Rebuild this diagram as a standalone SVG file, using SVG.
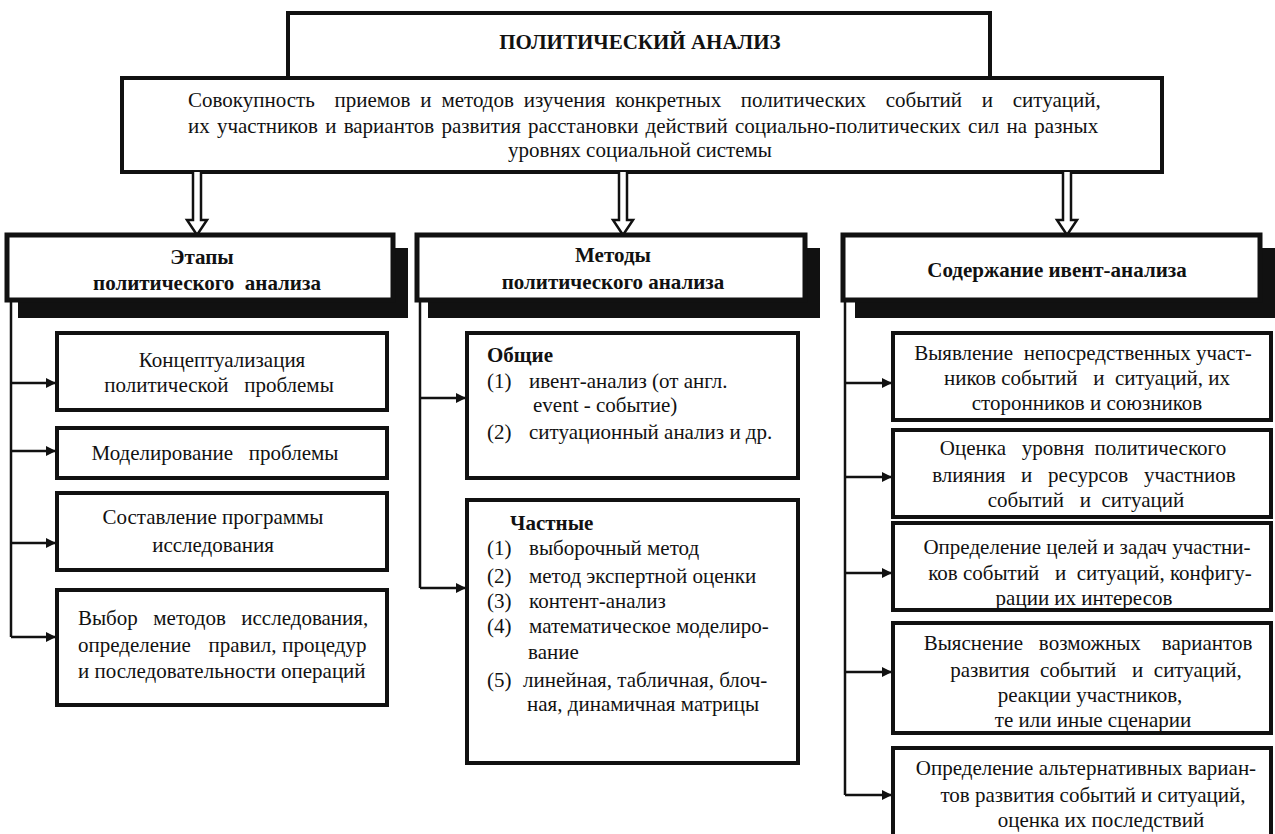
<svg xmlns="http://www.w3.org/2000/svg" width="1275" height="834" viewBox="0 0 1275 834" font-family="Liberation Serif" font-size="21">
<style>
.box{fill:#fff;stroke:#111;stroke-width:4}
.hdr{fill:#fff;stroke:#111;stroke-width:5}
.sh{fill:#111}
.t{font-size:21px;fill:#111}
.b{font-weight:bold}
.c{text-anchor:middle}
.ln{stroke:#111;stroke-width:2.5;fill:none}
.hol{fill:#fff;stroke:#111;stroke-width:2.5;stroke-linejoin:miter}
</style>
<defs>
<marker id="ah" viewBox="0 0 10 10" refX="10" refY="5" markerWidth="11" markerHeight="10" markerUnits="userSpaceOnUse" orient="auto">
<path d="M0,0 L10,5 L0,10 z" fill="#111"/>
</marker>
</defs>
<rect width="1275" height="834" fill="#fff"/>

<g id="title" font-family="Liberation Serif">
<rect class="box" x="288" y="13" width="702" height="65"/>
<text class="t b c" x="640" y="49" font-family="Liberation Serif">ПОЛИТИЧЕСКИЙ АНАЛИЗ</text>
</g>
<g id="definition" font-family="Liberation Serif">
<rect class="box" x="122" y="78" width="1040" height="94"/>
<text class="t" x="188" y="107" font-family="Liberation Serif" word-spacing="4.6" xml:space="preserve">Совокупность  приемов и методов изучения конкретных  политических  событий  и  ситуаций,</text>
<text class="t" x="188" y="133" font-family="Liberation Serif" word-spacing="2">их участников и вариантов развития расстановки действий социально-политических сил на разных</text>
<text class="t c" x="640" y="157" font-family="Liberation Serif">уровнях социальной системы</text>
</g>

<g id="connectors">
<path class="hol" d="M193,172 V220 H187 L197,235 L207,220 H201 V172"/>
<path class="hol" d="M619,172 V220 H613 L623,235 L633,220 H627 V172"/>
<path class="hol" d="M1063,172 V220 H1057 L1067,235 L1077,220 H1071 V172"/>
<path class="ln" d="M11,300 V637"/>
<line class="ln" x1="11" y1="383" x2="56" y2="383" marker-end="url(#ah)"/>
<line class="ln" x1="11" y1="451" x2="56" y2="451" marker-end="url(#ah)"/>
<line class="ln" x1="11" y1="543" x2="56" y2="543" marker-end="url(#ah)"/>
<line class="ln" x1="11" y1="637" x2="56" y2="637" marker-end="url(#ah)"/>
<path class="ln" d="M420,300 V588"/>
<line class="ln" x1="420" y1="398" x2="466" y2="398" marker-end="url(#ah)"/>
<line class="ln" x1="420" y1="588" x2="466" y2="588" marker-end="url(#ah)"/>
<path class="ln" d="M845,300 V795"/>
<line class="ln" x1="845" y1="383" x2="892" y2="383" marker-end="url(#ah)"/>
<line class="ln" x1="845" y1="477" x2="892" y2="477" marker-end="url(#ah)"/>
<line class="ln" x1="845" y1="573" x2="892" y2="573" marker-end="url(#ah)"/>
<line class="ln" x1="845" y1="672" x2="892" y2="672" marker-end="url(#ah)"/>
<line class="ln" x1="845" y1="795" x2="892" y2="795" marker-end="url(#ah)"/>
</g>

<g id="hdr-stages" font-family="Liberation Serif">
<rect class="sh" x="18" y="248" width="390" height="70"/>
<rect class="hdr" x="7" y="235" width="386" height="65"/>
<text class="t b c" x="202" y="264" font-family="Liberation Serif">Этапы</text>
<text class="t b c" x="207" y="290" font-family="Liberation Serif" xml:space="preserve">политического  анализа</text>
</g>
<g id="hdr-methods" font-family="Liberation Serif">
<rect class="sh" x="428" y="248" width="392" height="70"/>
<rect class="hdr" x="417" y="235" width="388" height="65"/>
<text class="t b c" x="613" y="262" font-family="Liberation Serif">Методы</text>
<text class="t b c" x="613" y="289" font-family="Liberation Serif">политического анализа</text>
</g>
<g id="hdr-content" font-family="Liberation Serif">
<rect class="sh" x="855" y="248" width="420" height="70"/>
<rect class="hdr" x="843" y="235" width="417" height="65"/>
<text class="t b c" x="1057" y="277" font-family="Liberation Serif">Содержание ивент-анализа</text>
</g>

<g id="stage1" font-family="Liberation Serif">
<rect class="box" x="57" y="333" width="330" height="77"/>
<text class="t c" x="222" y="367" font-family="Liberation Serif">Концептуализация</text>
<text class="t c" x="219" y="392" font-family="Liberation Serif" xml:space="preserve">политической   проблемы</text>
</g>
<g id="stage2" font-family="Liberation Serif">
<rect class="box" x="57" y="428" width="330" height="50"/>
<text class="t c" x="215" y="460" font-family="Liberation Serif" xml:space="preserve">Моделирование   проблемы</text>
</g>
<g id="stage3" font-family="Liberation Serif">
<rect class="box" x="57" y="493" width="330" height="77"/>
<text class="t c" x="213" y="524" font-family="Liberation Serif">Составление программы</text>
<text class="t c" x="213" y="552" font-family="Liberation Serif">исследования</text>
</g>
<g id="stage4" font-family="Liberation Serif">
<rect class="box" x="57" y="590" width="330" height="115"/>
<text class="t" x="78" y="625" font-family="Liberation Serif" word-spacing="2.5" xml:space="preserve">Выбор  методов  исследования,</text>
<text class="t" x="78" y="652" font-family="Liberation Serif" word-spacing="0.6" xml:space="preserve">определение   правил, процедур</text>
<text class="t" x="78" y="678" font-family="Liberation Serif">и последовательности операций</text>
</g>

<g id="methods-general" font-family="Liberation Serif">
<rect class="box" x="467" y="333" width="331" height="145"/>
<text class="t b" x="487" y="362" font-family="Liberation Serif">Общие</text>
<text class="t" x="487" y="388" font-family="Liberation Serif">(1)</text><text class="t" x="529" y="388" font-family="Liberation Serif">ивент-анализ (от англ.</text>
<text class="t" x="533" y="412" font-family="Liberation Serif">event - событие)</text>
<text class="t" x="487" y="439" font-family="Liberation Serif">(2)</text><text class="t" x="529" y="439" font-family="Liberation Serif">ситуационный анализ и др.</text>
</g>
<g id="methods-special" font-family="Liberation Serif">
<rect class="box" x="467" y="500" width="331" height="263"/>
<text class="t b" x="510" y="530" font-family="Liberation Serif">Частные</text>
<text class="t" x="487" y="555" font-family="Liberation Serif">(1)</text><text class="t" x="529" y="555" font-family="Liberation Serif">выборочный метод</text>
<text class="t" x="487" y="583" font-family="Liberation Serif">(2)</text><text class="t" x="529" y="583" font-family="Liberation Serif">метод экспертной оценки</text>
<text class="t" x="487" y="608" font-family="Liberation Serif">(3)</text><text class="t" x="529" y="608" font-family="Liberation Serif">контент-анализ</text>
<text class="t" x="487" y="633" font-family="Liberation Serif">(4)</text><text class="t" x="529" y="633" font-family="Liberation Serif">математическое моделиро-</text>
<text class="t" x="528" y="659" font-family="Liberation Serif">вание</text>
<text class="t" x="487" y="687" font-family="Liberation Serif">(5)</text><text class="t" x="523" y="687" font-family="Liberation Serif">линейная, табличная, блоч-</text>
<text class="t" x="527" y="711" font-family="Liberation Serif">ная, динамичная матрицы</text>
</g>

<g id="content1" font-family="Liberation Serif">
<rect class="box" x="893" y="333" width="378" height="87"/>
<text class="t c" x="1083" y="360" font-family="Liberation Serif" xml:space="preserve">Выявление  непосредственных участ-</text>
<text class="t c" x="1087" y="385" font-family="Liberation Serif" xml:space="preserve">ников событий   и  ситуаций, их</text>
<text class="t c" x="1087" y="410" font-family="Liberation Serif">сторонников и союзников</text>
</g>
<g id="content2" font-family="Liberation Serif">
<rect class="box" x="893" y="430" width="378" height="87"/>
<text class="t c" x="1083" y="455" font-family="Liberation Serif" xml:space="preserve">Оценка   уровня  политического</text>
<text class="t c" x="1084" y="482" font-family="Liberation Serif" xml:space="preserve">влияния   и   ресурсов   участниов</text>
<text class="t c" x="1086" y="507" font-family="Liberation Serif" xml:space="preserve">событий   и  ситуаций</text>
</g>
<g id="content3" font-family="Liberation Serif">
<rect class="box" x="893" y="523" width="378" height="87"/>
<text class="t c" x="1087" y="554" font-family="Liberation Serif">Определение целей и задач участни-</text>
<text class="t c" x="1090" y="580" font-family="Liberation Serif" xml:space="preserve">ков событий   и  ситуаций, конфигу-</text>
<text class="t c" x="1084" y="605" font-family="Liberation Serif">рации их интересов</text>
</g>
<g id="content4" font-family="Liberation Serif">
<rect class="box" x="893" y="623" width="378" height="110"/>
<text class="t c" x="1088" y="650" font-family="Liberation Serif" xml:space="preserve">Выяснение   возможных    вариантов</text>
<text class="t c" x="1096" y="677" font-family="Liberation Serif" xml:space="preserve">развития  событий   и  ситуаций,</text>
<text class="t c" x="1090" y="702" font-family="Liberation Serif">реакции участников,</text>
<text class="t c" x="1093" y="727" font-family="Liberation Serif">те или иные сценарии</text>
</g>
<g id="content5" font-family="Liberation Serif">
<rect class="box" x="893" y="748" width="378" height="95"/>
<text class="t c" x="1086" y="775" font-family="Liberation Serif">Определение альтернативных вариан-</text>
<text class="t c" x="1093" y="802" font-family="Liberation Serif">тов развития событий и ситуаций,</text>
<text class="t c" x="1101" y="827" font-family="Liberation Serif">оценка их последствий</text>
</g>
</svg>
